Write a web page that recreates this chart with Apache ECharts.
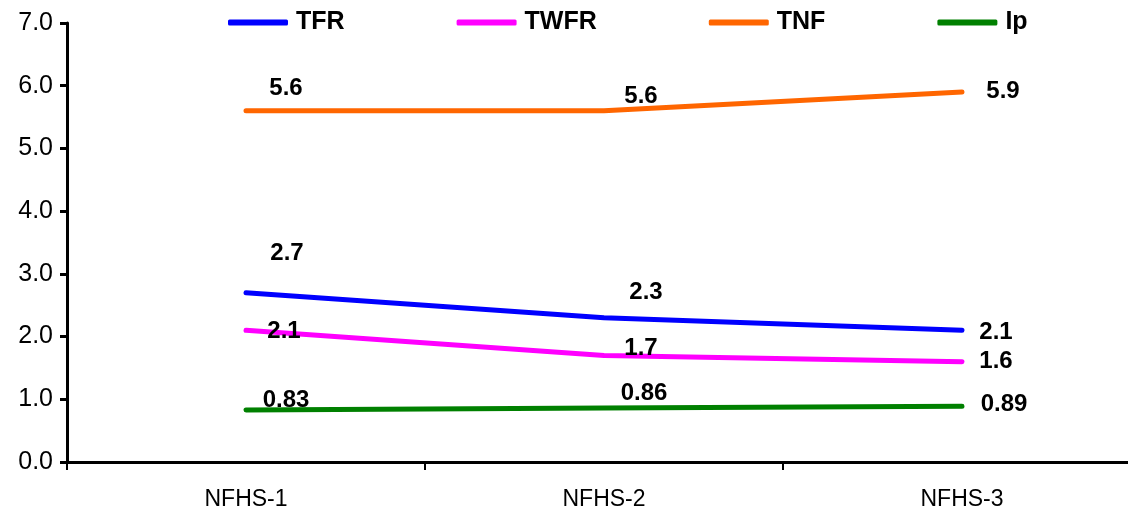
<!DOCTYPE html>
<html>
<head>
<meta charset="utf-8">
<script src="https://cdn.jsdelivr.net/npm/echarts@6/dist/echarts.min.js"></script>
<style>
  html, body { margin: 0; padding: 0; background: #fff; }
  #chart { width: 1128px; height: 516px; }
</style>
</head>
<body>
<div id="chart"></div>
<script>
// Survey rounds on the category axis
const surveys = ['NFHS-1', 'NFHS-2', 'NFHS-3'];

// Indicator values per survey round
const tfr  = [2.7, 2.3, 2.1];
const twfr = [2.1, 1.7, 1.6];
const tnf  = [5.6, 5.6, 5.9];
const ip   = [0.83, 0.86, 0.89];

const seriesNames = ['TFR', 'TWFR', 'TNF', 'Ip'];
const yTicks = { min: 0, max: 7, step: 1 };

// Label nudges (px) for each point, so labels sit clear of the lines
const labelShift = {
  TFR:  [[41, -39], [42, -25], [34, 2]],
  TWFR: [[38, 1],   [37, -7],  [34, 0]],
  TNF:  [[40, -22], [37, -14], [41, -1]],
  Ip:   [[40, -10], [40, -15], [42, -2]]
};
const colors = { TFR: '#0000ff', TWFR: '#ff00ff', TNF: '#ff6600', Ip: '#008000' };
const valuesByName = { TFR: tfr, TWFR: twfr, TNF: tnf, Ip: ip };

const FONT = "'Liberation Sans', Arial, sans-serif";

function makeSeries(name) {
  const vals = valuesByName[name];
  return {
    name: name,
    type: 'line',
    symbol: 'circle',
    symbolSize: 1,
    showSymbol: true,
    color: colors[name],
    lineStyle: { width: 5, color: colors[name], cap: 'round' },
    itemStyle: { color: colors[name] },
    emphasis: { disabled: true },
    data: vals.map((v, i) => ({
      value: v,
      label: {
        show: true,
        position: 'inside',
        offset: labelShift[name][i],
        formatter: String(v),
        color: '#000',
        fontFamily: FONT,
        fontWeight: 'bold',
        fontSize: 24,
        align: 'center',
        verticalAlign: 'middle'
      }
    }))
  };
}

const chart = echarts.init(document.getElementById('chart'), null, { renderer: 'canvas' });
chart.setOption({
  animation: false,
  backgroundColor: '#fff',
  grid: {
    left: 67, top: 23, bottom: 54, right: -13,
    containLabel: false,
    outerBoundsMode: 'none'
  },
  legend: {
    data: seriesNames,
    top: 10,
    left: 228,
    padding: 0,
    itemGap: 112,
    itemWidth: 60,
    itemHeight: 6,
    icon: 'roundRect',
    textStyle: {
      fontFamily: FONT,
      fontWeight: 'bold',
      fontSize: 25,
      color: '#000',
      padding: [0, 0, 0, 3]
    },
    selectedMode: false
  },
  xAxis: {
    type: 'category',
    data: surveys,
    boundaryGap: true,
    axisLine: { lineStyle: { color: '#000', width: 3 } },
    axisTick: { show: true, inside: false, length: 8, lineStyle: { color: '#000', width: 2 } },
    axisLabel: {
      margin: 26,
      color: '#000',
      fontFamily: FONT,
      fontSize: 23
    },
    splitLine: { show: false }
  },
  yAxis: {
    type: 'value',
    min: yTicks.min,
    max: yTicks.max,
    interval: yTicks.step,
    axisLine: { show: true, lineStyle: { color: '#000', width: 3 } },
    axisTick: { show: true, inside: false, length: 7, lineStyle: { color: '#000', width: 3 } },
    axisLabel: {
      margin: 14,
      color: '#000',
      fontFamily: FONT,
      fontSize: 25,
      formatter: v => v.toFixed(1)
    },
    splitLine: { show: false }
  },
  series: seriesNames.map(makeSeries)
});
</script>
</body>
</html>
